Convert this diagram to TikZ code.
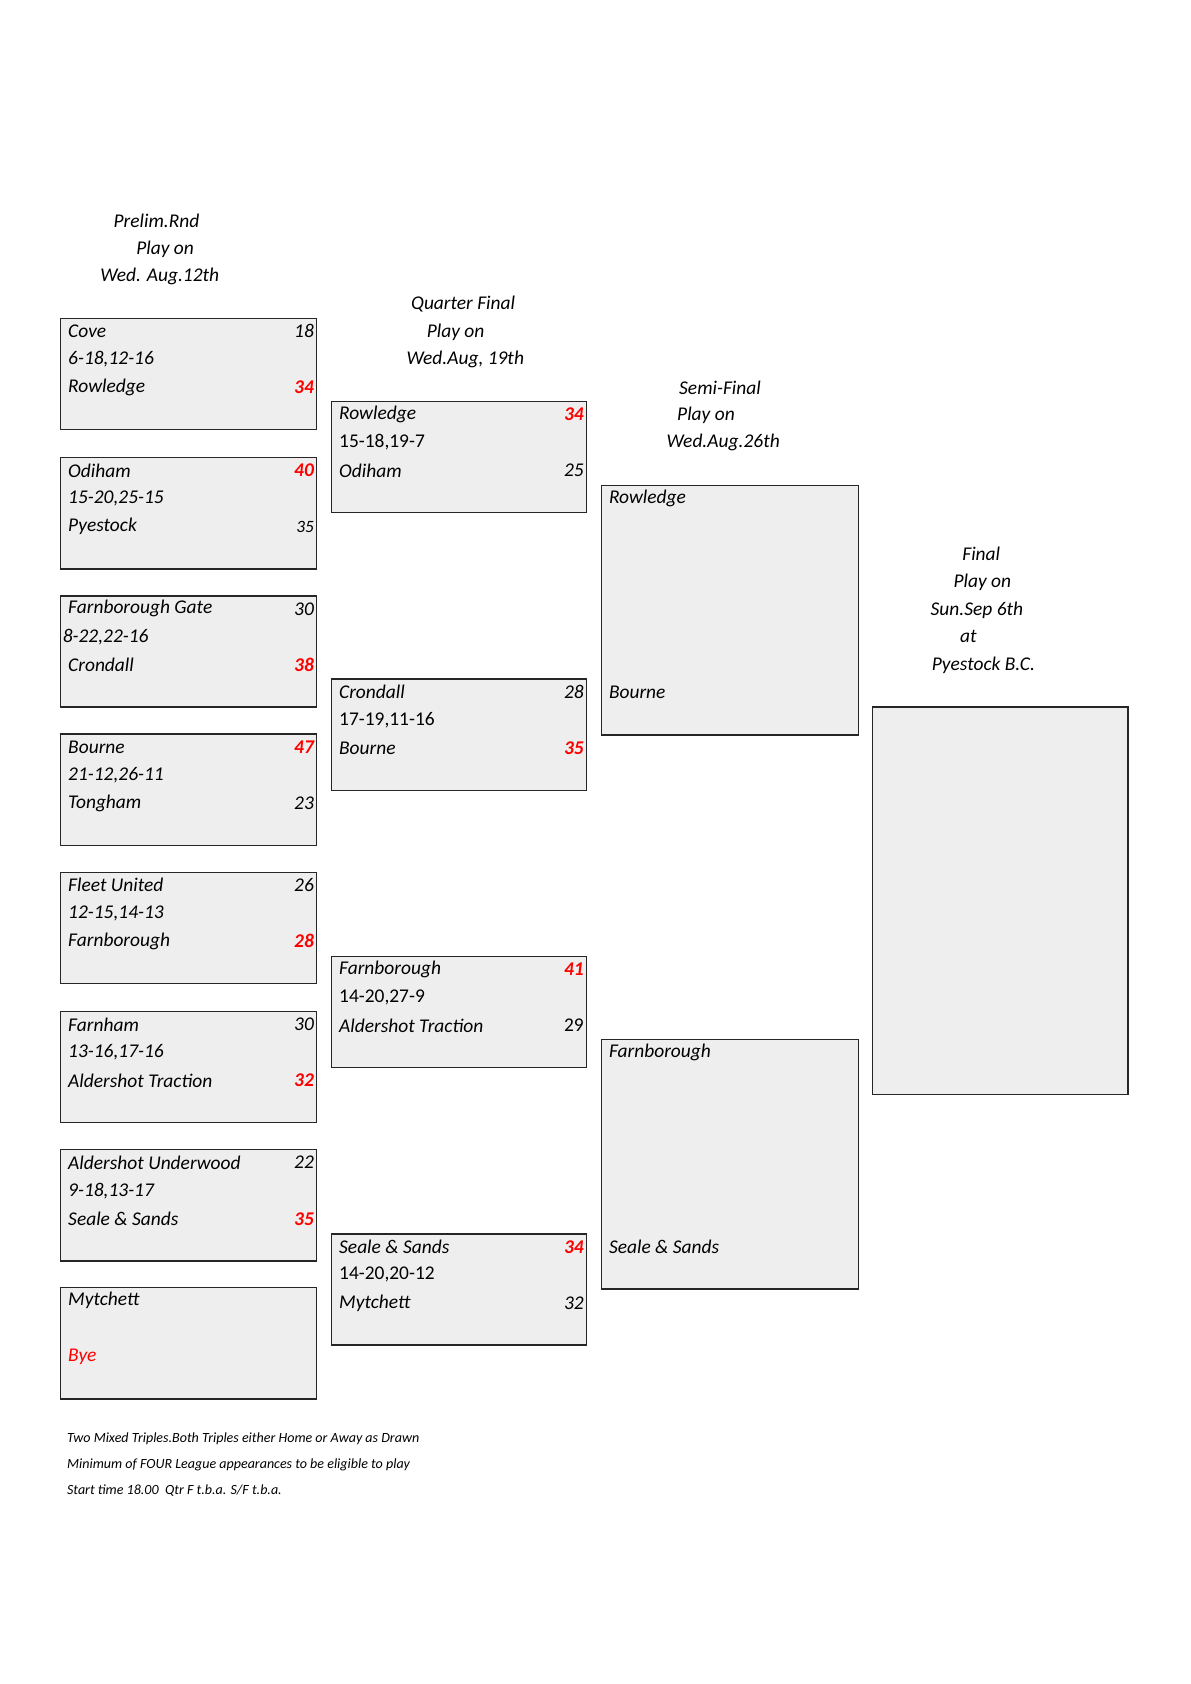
\documentclass[tikz,border=0pt]{standalone}
\usepackage{fontspec}
\setmainfont{Carlito}
\definecolor{boxfill}{HTML}{EEEEEE}
\definecolor{win}{HTML}{FF0000}
\begin{document}
\begin{tikzpicture}[x=1pt,y=-1pt,
  box/.style={draw=black!85,line width=1.2pt,fill=boxfill},
  t/.style={anchor=west,inner sep=0pt,font=\fontsize{18}{20}\selectfont\itshape},
  n/.style={anchor=east,inner sep=0pt,font=\fontsize{18}{20}\selectfont\itshape},
  w/.style={anchor=east,inner sep=0pt,text=win,font=\fontsize{18}{20}\selectfont\bfseries\itshape},
  h/.style={inner sep=0pt,font=\fontsize{18}{20}\selectfont\itshape},
  f/.style={anchor=west,inner sep=0pt,font=\fontsize{13}{15}\selectfont\itshape}]
\useasboundingbox (0,0) rectangle (1103,1560);
\fill[white] (0,0) rectangle (1103,1560);
% prelim boxes
\foreach \y/\nm in {295/p1,424/p2,552/p3,680/p4,808/p5,937/p6,1065/p7,1193/p8}
  \draw[box] (56,\y) rectangle (293,\y+103) coordinate (\nm);
\foreach \y/\nm in {372/q1,629/q2,886/q3,1143/q4}
  \draw[box] (307,\y) rectangle (543,\y+103) coordinate (\nm);
\draw[box] (557,450) rectangle (795,681) coordinate (s1);
\draw[box] (557,963) rectangle (795,1194) coordinate (s2);
\draw[box] (808,655) rectangle (1045,1014) coordinate (fin);
% headings
\node[h] (h1a) at (145,205) {Prelim.Rnd};
\node[h] (h1b) at (153,231) {Play on};
\node[h] (h1c) at (148,256) {Wed. Aug.12th};
\node[h] (h2a) at (429,282) {Quarter Final};
\node[h] (h2b) at (422,308) {Play on};
\node[h] (h2c) at (431,333) {Wed.Aug, 19th};
\node[h] (h3a) at (667,359) {Semi-Final};
\node[h] (h3b) at (654,385) {Play on};
\node[h] (h3c) at (670,410) {Wed.Aug.26th};
\node[h] (h4a) at (909,513) {Final};
\node[h] (h4b) at (910,539) {Play on};
\node[h] (h4c) at (905,565) {Sun.Sep 6th};
\node[h] (h4d) at (897,590) {at};
\node[h] (h4e) at (911,616) {Pyestock B.C.};
% prelim text
\node[t] (a1) at (63,307) {Cove}; \node[n] (a1s) at (291,307) {18};
\node[t] (a2) at (63,333) {6-18,12-16};
\node[t] (a3) at (63,359) {Rowledge}; \node[w] (a3s) at (291,359) {34};
\node[t] (b1) at (63,436) {Odiham}; \node[w] (b1s) at (291,436) {40};
\node[t] (b2) at (63,462) {15-20,25-15};
\node[t] (b3) at (63,488) {Pyestock}; \node[n,font=\fontsize{16}{18}\selectfont\itshape] (b3s) at (291,488) {35};
\node[t] (c1) at (63,564) {Farnborough Gate}; \node[n] (c1s) at (291,564) {30};
\node[t] (c2) at (58,590) {8-22,22-16};
\node[t] (c3) at (63,616) {Crondall}; \node[w] (c3s) at (291,616) {38};
\node[t] (d1) at (63,692) {Bourne}; \node[w] (d1s) at (291,692) {47};
\node[t] (d2) at (63,718) {21-12,26-11};
\node[t] (d3) at (63,744) {Tongham}; \node[n] (d3s) at (291,744) {23};
\node[t] (e1) at (63,820) {Fleet United}; \node[n] (e1s) at (291,820) {26};
\node[t] (e2) at (63,846) {12-15,14-13};
\node[t] (e3) at (63,872) {Farnborough}; \node[w] (e3s) at (291,872) {28};
\node[t] (g1) at (63,949) {Farnham}; \node[n] (g1s) at (291,949) {30};
\node[t] (g2) at (63,975) {13-16,17-16};
\node[t] (g3) at (63,1001) {Aldershot Traction}; \node[w] (g3s) at (291,1001) {32};
\node[t] (k1) at (63,1077) {Aldershot Underwood}; \node[n] (k1s) at (291,1077) {22};
\node[t] (k2) at (63,1103) {9-18,13-17};
\node[t] (k3) at (63,1129) {Seale \& Sands}; \node[w] (k3s) at (291,1129) {35};
\node[t] (m1) at (63,1205) {Mytchett};
\node[t,text=win] (m3) at (63,1257) {Bye};
% QF text
\node[t] (q11) at (314,384) {Rowledge}; \node[w] (q11s) at (541,384) {34};
\node[t,font=\fontsize{18}{20}\selectfont] (q12) at (314,410) {15-18,19-7};
\node[t] (q13) at (314,436) {Odiham}; \node[n] (q13s) at (541,436) {25};
\node[t] (q21) at (314,641) {Crondall}; \node[n] (q21s) at (541,641) {28};
\node[t,font=\fontsize{18}{20}\selectfont] (q22) at (314,667) {17-19,11-16};
\node[t] (q23) at (314,693) {Bourne}; \node[w] (q23s) at (541,693) {35};
\node[t] (q31) at (314,898) {Farnborough}; \node[w] (q31s) at (541,898) {41};
\node[t,font=\fontsize{18}{20}\selectfont] (q32) at (314,924) {14-20,27-9};
\node[t] (q33) at (314,950) {Aldershot Traction}; \node[n,font=\fontsize{18}{20}\selectfont] (q33s) at (541,950) {29};
\node[t] (q41) at (314,1155) {Seale \& Sands}; \node[w] (q41s) at (541,1155) {34};
\node[t,font=\fontsize{18}{20}\selectfont] (q42) at (314,1181) {14-20,20-12};
\node[t] (q43) at (314,1207) {Mytchett}; \node[n] (q43s) at (541,1207) {32};
% SF text
\node[t] (s11) at (564,462) {Rowledge};
\node[t] (s12) at (564,641) {Bourne};
\node[t] (s21) at (564,975) {Farnborough};
\node[t] (s22) at (564,1155) {Seale \& Sands};
% footnotes
\node[f] (f1) at (62,1333) {Two Mixed Triples.Both Triples either Home or Away as Drawn};
\node[f] (f2) at (62,1357) {Minimum of FOUR League appearances to be eligible to play};
\node[f] (f3) at (62,1381) {Start time 18.00\ \ Qtr F t.b.a. S/F t.b.a.};
\end{tikzpicture}
\end{document}
